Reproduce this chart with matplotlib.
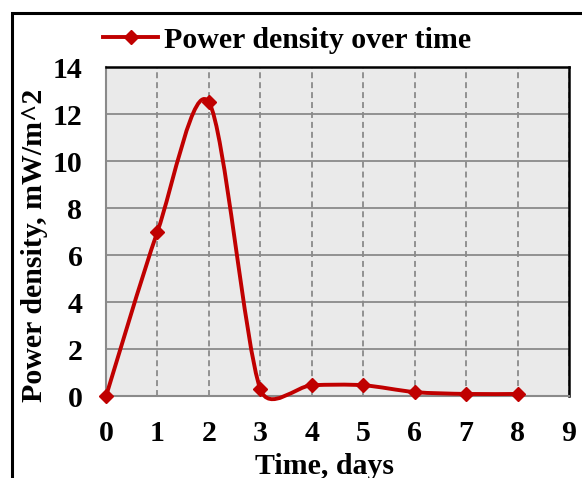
import matplotlib
matplotlib.use("Agg")
import matplotlib.pyplot as plt
import numpy as np
from matplotlib.path import Path
from matplotlib.patches import PathPatch
from matplotlib.lines import Line2D

# data
days = [0, 1, 2, 3, 4, 5, 6, 7, 8]
power = [0.0, 7.0, 12.5, 0.3, 0.47, 0.47, 0.18, 0.1, 0.1]
xticks = list(range(0, 10))
yticks = list(range(0, 16, 2))

red = "#C00000"
grid_col = "#8A8A8A"
plt.rcParams["font.family"] = ["Liberation Serif", "DejaVu Serif"]
plt.rcParams["font.weight"] = "bold"
fs = 21.5

W, H = 582, 478
fig = plt.figure(figsize=(W / 100, H / 100), dpi=100)
# plot area in pixels: x 106..569, y 67..396
ax = fig.add_axes([106 / W, 1 - 396.3 / H, (569 - 106) / W, (396.3 - 67) / H])
ax.set_facecolor("#EAEAEA")
ax.set_xlim(0, 9)
ax.set_ylim(0, 14)
ax.set_xticks(xticks)
ax.set_yticks(yticks)
ax.set_xticklabels([str(t) for t in xticks])
ax.set_yticklabels([str(t) for t in yticks])
ax.tick_params(axis="both", length=0, labelsize=fs)
ax.tick_params(axis="y", pad=17)
ax.tick_params(axis="x", pad=17)
for lab in ax.get_xticklabels() + ax.get_yticklabels():
    lab.set_fontweight("bold")

ax.yaxis.grid(True, color=grid_col, lw=1.3, ls="-")
ax.xaxis.grid(True, color=grid_col, lw=1.3, ls=(0, (3.3, 2.2)))
ax.set_axisbelow(True)
for s in ["left", "bottom"]:
    ax.spines[s].set_color(grid_col)
    ax.spines[s].set_linewidth(1.5)
for s in ["top", "right"]:
    ax.spines[s].set_color("black")
    ax.spines[s].set_linewidth(1.8)


# Excel-like smoothed line: cubic bezier through points, built in screen space
def smooth_path(xs, ys):
    pts = ax.transData.transform(np.column_stack([xs, ys]))
    n = len(pts)
    verts = [pts[0]]
    codes = [Path.MOVETO]
    for i in range(n - 1):
        p0 = pts[i - 1] if i > 0 else pts[i]
        p1 = pts[i]
        p2 = pts[i + 1]
        p3 = pts[i + 2] if i + 2 < n else pts[i + 1]
        d12 = np.hypot(*(p2 - p1))
        t1 = p2 - p0
        t2 = p3 - p1
        n1 = np.hypot(*t1)
        n2 = np.hypot(*t2)
        f1 = min(0.15, 0.5 * d12 / n1) if n1 > 0 else 0
        f2 = min(0.15, 0.5 * d12 / n2) if n2 > 0 else 0
        verts += [p1 + f1 * t1, p2 - f2 * t2, p2]
        codes += [Path.CURVE4] * 3
    verts = ax.transData.inverted().transform(np.array(verts))
    return Path(verts, codes)


curve = PathPatch(smooth_path(days, power), fill=False, ec=red, lw=2.8,
                  clip_on=False, zorder=3, capstyle="round", joinstyle="round")
ax.add_patch(curve)
ax.plot(days, power, ls="none", marker="D", ms=6.8, color=red, mew=1,
        clip_on=False, zorder=4)

ax.set_xlabel("Time, days", fontsize=fs, fontweight="bold", va="top")
ax.xaxis.set_label_coords(0.473, -0.172)
ax.set_ylabel("Power density, mW/m^2", fontsize=fs, fontweight="bold",
              ha="center", va="center")
ax.yaxis.set_label_coords((35 - 106) / 463, (396.3 - 245) / 329.3)

handle = Line2D([], [], color=red, lw=2.8, marker="D", ms=6.8, mew=1)
ax.legend([handle], ["Power density over time"], loc="center left",
          bbox_to_anchor=(103 / W, 1 - 40 / H), bbox_transform=fig.transFigure,
          frameon=False, borderpad=0, borderaxespad=0, handlelength=1.85,
          handletextpad=0.2, prop={"size": fs, "weight": "bold"})

# outer chart border (cropped at right and bottom)
fig.add_artist(Line2D([11.5 / W, 11.5 / W, 1.0], [0.0, 1 - 12.5 / H, 1 - 12.5 / H],
                      transform=fig.transFigure, color="black", lw=2.2,
                      solid_joinstyle="miter"))

fig.savefig("out.png", dpi=100)
